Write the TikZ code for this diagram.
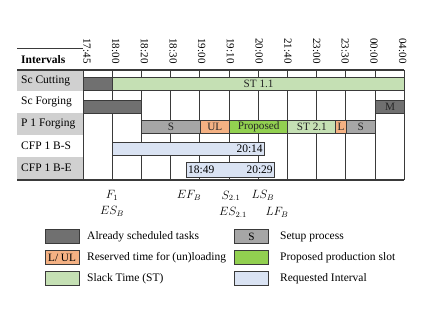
\documentclass[tikz,border=0pt]{standalone}
\usepackage{fontspec}
\setmainfont{Liberation Serif}
\definecolor{dk}{HTML}{707070}
\definecolor{sg}{HTML}{A6A6A6}
\definecolor{orng}{HTML}{F4B183}
\definecolor{prop}{HTML}{92D050}
\definecolor{slack}{HTML}{C5E0B4}
\definecolor{req}{HTML}{DAE3F3}
\definecolor{lab}{HTML}{D0D0D0}
\definecolor{ln}{HTML}{3A3A3A}
\begin{document}
\begin{tikzpicture}[x=1pt,y=-1pt,
  txt/.style={font=\fontsize{11.5}{13}\selectfont, inner sep=0pt},
  bar/.style={draw=ln, line width=0.9pt, inner sep=0pt, anchor=north west, minimum height=13pt, font=\fontsize{11.2}{12}\selectfont, text=black!85},
  tl/.style={rotate=-90, font=\fontsize{11}{12}\selectfont, inner sep=0pt},
  rowlab/.style={txt, anchor=west},
  grid/.style={draw=ln, line width=0.9pt},
  legbox/.style={draw=ln, line width=1pt, minimum width=34pt, minimum height=14pt, inner sep=0pt, font=\fontsize{11.2}{12}\selectfont},
  legtxt/.style={txt, anchor=west},
  mlab/.style={inner sep=0pt, font=\fontsize{12}{13}\selectfont}]
\useasboundingbox (0,0) rectangle (423,326);
\fill[white] (0,0) rectangle (423,326);
% label column backgrounds
\fill[lab] (17,70) rectangle (83,91);
\fill[lab] (17,113) rectangle (83,135);
\fill[lab] (17,157) rectangle (83,180);
% header
\draw[ln, line width=0.8pt] (17,48) -- (83,48);
\node[txt, anchor=west, font=\bfseries\fontsize{11.5}{13}\selectfont] (hdr) at (21,60) {Intervals};
% time labels
\foreach \t [count=\i from 0] in {17:45,18:00,18:20,18:30,19:00,19:10,20:00,21:40,23:00,23:30,00:00,04:00}
  \node[tl] (t\i) at ({87+28.7*\i},51) {\t};
% grid
\foreach \i in {0,...,11}
  \draw[grid] ({83+29.2*\i},70) -- ({83+29.2*\i},180);
\draw[ln, line width=1.1pt] (17,70) -- (404.2,70);
\draw[ln, line width=1.1pt] (17,180) -- (404.2,180);
% row labels
\node[rowlab] (r1) at (21,81) {Sc Cutting};
\node[rowlab] (r2) at (21,102) {Sc Forging};
\node[rowlab] (r3) at (21,124) {P 1 Forging};
\node[rowlab] (r4) at (21,146) {CFP 1 B-S};
\node[rowlab] (r5) at (21,168) {CFP 1 B-E};
% Sc Cutting
\node[bar, fill=dk, minimum width=29.2pt] (cut0) at (83,77) {};
\node[bar, fill=slack, minimum width=292pt] (st11) at (112.2,77) {ST 1.1};
% Sc Forging
\node[bar, fill=dk, minimum width=58.4pt] (forg0) at (83,100) {};
\node[bar, fill=dk, minimum width=29.2pt] (mnt) at (375,100) {M};
% P 1 Forging
\node[bar, fill=sg, minimum width=58.4pt] (s1) at (141.4,120) {S};
\node[bar, fill=orng, minimum width=29.2pt] (ul) at (199.8,120) {UL};
\node[bar, fill=prop, minimum width=58.4pt] (prp) at (229,120) {Proposed};
\node[bar, fill=slack, minimum width=48pt] (st21) at (287.4,120) {ST 2.1};
\node[bar, fill=orng, minimum width=10.4pt] (lo) at (335.4,120) {L};
\node[bar, fill=sg, minimum width=29.2pt] (s2) at (345.8,120) {S};
% CFP 1 B-S
\node[bar, fill=req, minimum width=151.8pt] (bs) at (112.2,142) {};
\node[txt, anchor=east] (bsend) at ([xshift=-2pt]bs.east) {20:14};
% CFP 1 B-E
\node[bar, fill=req, minimum width=88pt, minimum height=14pt] (be) at (186,162.5) {};
\node[txt, anchor=west] (bestart) at ([xshift=2pt]be.west) {18:49};
\node[txt, anchor=east] (beend) at ([xshift=-2pt]be.east) {20:29};
% bottom labels
\node[mlab] (f1) at (112,195) {$F_1$};
\node[mlab] (esb) at (112,211) {$ES_B$};
\node[mlab] (efb) at (189,195) {$EF_B$};
\node[mlab] (s21) at (231,196) {$S_{2.1}$};
\node[mlab] (es21) at (233,212) {$ES_{2.1}$};
\node[mlab] (lsb) at (263,195) {$LS_B$};
\node[mlab] (lfb) at (277,212) {$LF_B$};
% legend
\node[legbox, fill=dk] (lg1) at (62,236.5) {};
\node[legtxt] (lt1) at (87,236.5) {Already scheduled tasks};
\node[legbox, fill=orng] (lg2) at (62,257.5) {L/ UL};
\node[legtxt] (lt2) at (87,257.5) {Reserved time for (un)loading};
\node[legbox, fill=slack] (lg3) at (62,278.5) {};
\node[legtxt] (lt3) at (87,278.5) {Slack Time (ST)};
\node[legbox, fill=sg] (lg4) at (251.5,236.5) {S};
\node[legtxt] (lt4) at (280,236.5) {Setup process};
\node[legbox, fill=prop] (lg5) at (251.5,257.5) {};
\node[legtxt] (lt5) at (280,257.5) {Proposed production slot};
\node[legbox, fill=req] (lg6) at (251.5,278.5) {};
\node[legtxt] (lt6) at (280,278.5) {Requested Interval};
\end{tikzpicture}
\end{document}
